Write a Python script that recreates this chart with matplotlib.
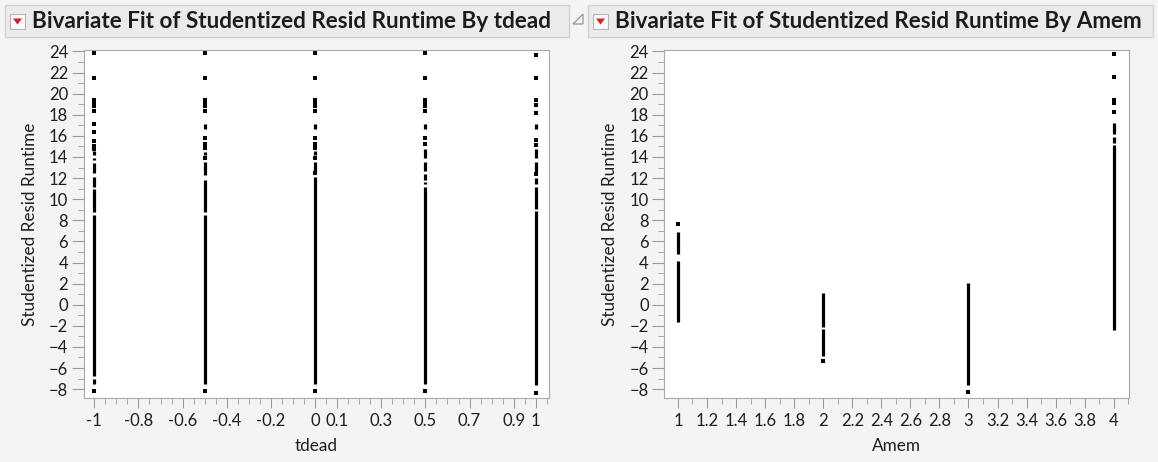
import matplotlib.pyplot as plt
from matplotlib.patches import Rectangle, Polygon
from matplotlib.ticker import MultipleLocator, FixedLocator

# data (studentized residuals)
tdead_levels = [-1, -0.5, 0, 0.5, 1]
tdead_points = [
    [23.9, 21.5, 19.4, 19.1, 18.85, 18.35, 17.1, 16.4, 15.5, 15.0, 14.75, -8.2],
    [23.9, 21.5, 19.4, 19.1, 18.85, 18.35, 15.8, 15.2, 14.85, 13.9, -8.2],
    [23.9, 21.5, 19.4, 19.1, 18.85, 18.35, 15.8, 15.2, 14.85, 13.9, 12.5, -8.2],
    [23.9, 21.5, 19.4, 19.1, 18.85, 18.35, 15.8, 15.2, -8.2],
    [23.7, 21.5, 19.4, 18.95, 18.2, 15.65, 15.15, 12.35, -8.4],
]
tdead_runs = [
    [(14.2, 14.6), (13.7, 13.95), (12.45, 13.4), (11.2, 12.15), (8.8, 11.0), (-6.75, 8.55), (-7.5, -7.0)],
    [(16.65, 17.1), (14.2, 14.45), (12.3, 13.5), (8.8, 11.8), (-7.5, 8.55)],
    [(16.65, 17.1), (14.2, 14.6), (12.7, 13.5), (-7.5, 12.1)],
    [(16.65, 17.1), (13.9, 14.8), (12.7, 13.5), (11.8, 12.4), (11.4, 11.6), (-7.5, 11.2)],
    [(16.65, 17.1), (13.9, 14.8), (12.6, 13.5), (11.4, 12.0), (9.1, 11.2), (-7.6, 8.9)],
]

amem_levels = [1, 2, 3, 4]
amem_points = [
    [7.65],
    [-5.3],
    [-8.3],
    [23.8, 21.6, 19.4, 19.1, 18.3],
]
amem_runs = [
    [(4.8, 6.9), (-1.6, 4.15)],
    [(-2.1, 1.1), (-4.9, -2.3), (-5.45, -5.2)],
    [(-7.65, 2.1)],
    [(16.2, 17.25), (15.35, 15.9), (-2.4, 15.1)],
]

tdead_ticks = [-1, -0.8, -0.6, -0.4, -0.2, 0, 0.1, 0.3, 0.5, 0.7, 0.9, 1]
tdead_labels = ["-1", "-0.8", "-0.6", "-0.4", "-0.2", "0", "0.1", "0.3", "0.5", "0.7", "0.9", "1"]
amem_ticks = [1, 1.2, 1.4, 1.6, 1.8, 2, 2.2, 2.4, 2.6, 2.8, 3, 3.2, 3.4, 3.6, 3.8, 4]
amem_labels = ["1", "1.2", "1.4", "1.6", "1.8", "2", "2.2", "2.4", "2.6", "2.8", "3",
               "3.2", "3.4", "3.6", "3.8", "4"]

titles = ["Bivariate Fit of Studentized Resid Runtime By tdead",
          "Bivariate Fit of Studentized Resid Runtime By Amem"]

W, H = 1158, 462
plt.rcParams['font.family'] = ['Lato', 'DejaVu Sans']

fig = plt.figure(figsize=(W / 100, H / 100), dpi=100)
fig.patch.set_facecolor('#f4f4f4')


def fx(x):
    return x / W


def fy(y):
    return 1 - y / H


def title_bar(x0, x1, text):
    fig.add_artist(Rectangle((fx(x0), fy(37)), fx(x1 - x0), 32 / H, transform=fig.transFigure,
                             facecolor='#ebebeb', edgecolor='#d2d2d2', lw=1))
    # red disclosure icon
    fig.add_artist(Rectangle((fx(x0 + 5), fy(29)), fx(15), 15 / H, transform=fig.transFigure,
                             facecolor='#fbfbfb', edgecolor='#b5b5b5', lw=0.8))
    fig.add_artist(Polygon([(fx(x0 + 8), fy(18.5)), (fx(x0 + 17), fy(18.5)), (fx(x0 + 12.5), fy(24.5))],
                           closed=True, transform=fig.transFigure, facecolor='#d42020', edgecolor='none'))
    fig.text(fx(x0 + 27), fy(21.5), text, fontsize=16.2, fontweight='bold', color='#1c1c1c',
             va='center', ha='left')


title_bar(5, 569, titles[0])
title_bar(588, 1153, titles[1])
# small outline triangle between the two panels
fig.add_artist(Polygon([(fx(573), fy(24)), (fx(583), fy(24)), (fx(583), fy(14))], closed=True,
                       transform=fig.transFigure, facecolor='none', edgecolor='#9a9a9a', lw=0.9))

ax1 = fig.add_axes([fx(83.5), fy(398), fx(549 - 83.5), (398 - 50) / H])
ax2 = fig.add_axes([fx(664), fy(398), fx(1129 - 664), (398 - 50) / H])


def draw_columns(ax, levels, runs, points):
    for x, segs, pts in zip(levels, runs, points):
        for lo, hi in segs:
            ax.vlines(x, lo, hi, color='black', lw=2.3)
        ax.plot([x] * len(pts), pts, 's', color='black', ms=2.2, mew=0)


draw_columns(ax1, tdead_levels, tdead_runs, tdead_points)
draw_columns(ax2, amem_levels, amem_runs, amem_points)

ax1.set_xlim(-1.049, 1.06)
ax2.set_xlim(0.904, 4.105)

ax1.xaxis.set_major_locator(FixedLocator(tdead_ticks))
ax1.set_xticklabels(tdead_labels)
ax1.xaxis.set_minor_locator(MultipleLocator(0.05))
ax2.xaxis.set_major_locator(FixedLocator(amem_ticks))
ax2.set_xticklabels(amem_labels)
ax2.xaxis.set_minor_locator(MultipleLocator(0.1))

for ax in (ax1, ax2):
    ax.set_facecolor('white')
    ax.set_ylim(-8.84, 24.14)
    ax.yaxis.set_major_locator(MultipleLocator(2))
    ax.yaxis.set_minor_locator(MultipleLocator(1))
    for s in ax.spines.values():
        s.set_color('#a9a9a9')
    ax.tick_params(which='both', color='#9a9a9a', labelcolor='#1e1e1e', labelsize=12)
    ax.tick_params(axis='y', which='major', length=9, pad=2)
    ax.tick_params(axis='y', which='minor', length=4.5)
    ax.tick_params(axis='x', which='major', length=7, pad=4)
    ax.tick_params(axis='x', which='minor', length=4.5)
    ax.set_ylabel("Studentized Resid Runtime", fontsize=12.3, color='#1e1e1e', labelpad=8)

ax1.set_xlabel("tdead", fontsize=12.3, color='#1e1e1e', labelpad=6)
ax2.set_xlabel("Amem", fontsize=12.3, color='#1e1e1e', labelpad=6)

fig.savefig("out.png", dpi=100, facecolor=fig.get_facecolor())
